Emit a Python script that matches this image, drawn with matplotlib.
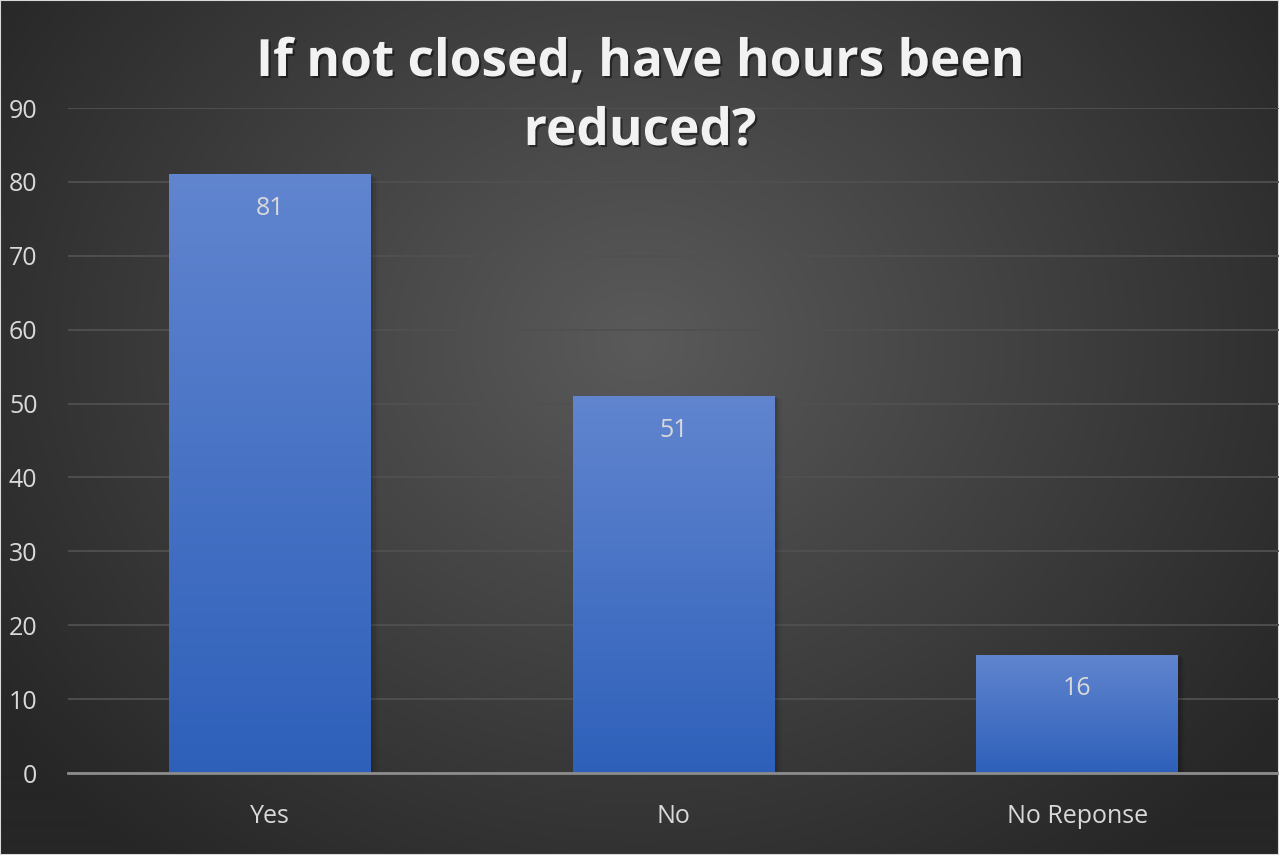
import numpy as np
import matplotlib
matplotlib.use("Agg")
import matplotlib.pyplot as plt
import matplotlib.patheffects as pe
from matplotlib.colors import LinearSegmentedColormap

categories = ["Yes", "No", "No Reponse"]
values = [81, 51, 16]
yticks = [0, 10, 20, 30, 40, 50, 60, 70, 80, 90]
title_lines = ["If not closed, have hours been", "reduced?"]

plt.rcParams['font.family'] = ['Open Sans', 'DejaVu Sans']

W, H = 1279, 855
fig = plt.figure(figsize=(W / 100, H / 100), dpi=100)

# background radial gradient
bg = fig.add_axes([0, 0, 1, 1], zorder=0)
yy, xx = np.mgrid[0:H, 0:W]
cx, cy = W * 0.5, H * 0.40
r = np.sqrt(((xx - cx) / (W * 0.62)) ** 2 + ((yy - cy) / (H * 0.78)) ** 2)
r = np.clip(r, 0, 1)
c_in = np.array([0x5a, 0x5a, 0x5a]) / 255
c_out = np.array([0x26, 0x26, 0x26]) / 255
img = c_in[None, None, :] * (1 - r[..., None]) + c_out[None, None, :] * r[..., None]
bg.imshow(img, aspect='auto', extent=[0, 1, 0, 1], origin='upper')
bg.set_axis_off()
bg.add_patch(plt.Rectangle((0, 0), 1, 1, transform=bg.transAxes, fill=False,
                           edgecolor='#d9d9d9', linewidth=1.5))

ax = fig.add_axes([68 / W, 1 - 773 / H, 1 - 68 / W, (773 - 108) / H], zorder=1)
ax.patch.set_alpha(0)
x = np.arange(len(categories))
ax.set_xlim(-0.5, len(categories) - 0.5)
ax.set_ylim(0, 90)

bar_cmap = LinearSegmentedColormap.from_list("b", ["#2e60ba", "#6185cf"])
bars = ax.bar(x, values, width=0.5, color='none', zorder=3)
grad = np.linspace(0, 1, 256).reshape(-1, 1)
for b in bars:
    x0, w, h = b.get_x(), b.get_width(), b.get_height()
    for k, a in enumerate([0.10, 0.07, 0.04]):
        off = 0.006 * (k + 1)
        ax.add_patch(plt.Rectangle((x0 + off, 0), w, h - 0.15 * (k + 1), facecolor='black',
                                   alpha=a, zorder=2, linewidth=0))
    im = ax.imshow(grad, cmap=bar_cmap, aspect='auto', extent=[x0, x0 + w, 0, h],
                   origin='lower', zorder=3)
    im.set_clip_path(b)
    ax.text(x0 + w / 2, h - 4.6, str(h), ha='center', va='center', color='#d9d9d9',
            fontsize=18, zorder=4)

ax.set_yticks(yticks)
ax.grid(axis='y', color='#505050', linewidth=1.3, zorder=1)
ax.set_axisbelow(True)
for s in ['top', 'right', 'left']:
    ax.spines[s].set_visible(False)
ax.spines['bottom'].set_color('#8c8c8c')
ax.spines['bottom'].set_linewidth(2)
ax.spines['bottom'].set_zorder(5)
ax.set_xticks(x)
ax.set_xticklabels(categories)
ax.tick_params(axis='both', length=0, colors='#d9d9d9', labelsize=18)
ax.tick_params(axis='x', pad=22)
ax.tick_params(axis='y', pad=22)

for line, ybase in zip(title_lines, [76, 145]):
    fig.text(640 / W, 1 - ybase / H, line, ha='center', va='baseline', color='#f2f2f2',
             fontsize=37, fontweight='bold',
             path_effects=[pe.SimplePatchShadow(offset=(1.5, -1.5), shadow_rgbFace='black',
                                                alpha=0.45), pe.Normal()])
fig.savefig("out.png", dpi=100)
